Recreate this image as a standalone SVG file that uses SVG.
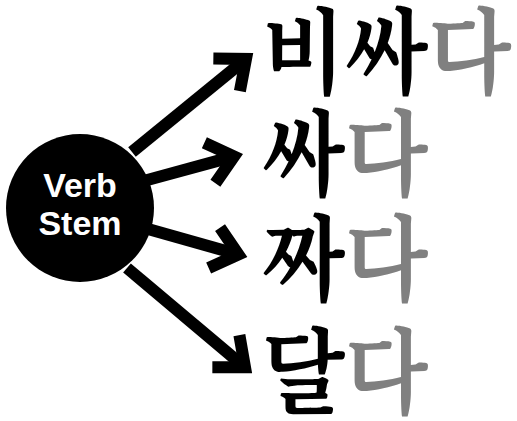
<svg xmlns="http://www.w3.org/2000/svg" width="517" height="421" viewBox="0 0 517 421">
<style>
.conn{fill:none;stroke:#000;stroke-width:12;stroke-linecap:butt;stroke-linejoin:miter}
.head{fill:none;stroke:#000;stroke-width:12;stroke-linecap:butt;stroke-linejoin:miter;stroke-miterlimit:10}
.stem{fill:#fff;font-family:"Liberation Sans",Arial,sans-serif;font-weight:bold;font-size:34px;text-anchor:middle}
.kr{font-family:"Noto Serif CJK KR","Noto Sans CJK KR",sans-serif;font-size:86px;font-weight:bold;fill:#000}
.end{fill:#808080}
</style>
<defs>
<marker id="chev" markerUnits="userSpaceOnUse" markerWidth="80" markerHeight="80" refX="0" refY="0" viewBox="-40 -40 80 80" orient="auto" overflow="visible">
<path class="head" d="M-25,-21 L0,0 L-25,21"/>
</marker>
</defs>
<rect width="517" height="421" fill="#fff"/>
<g id="connectors">
<path class="conn" d="M132,152 L246,59" marker-end="url(#chev)"/>
<path class="conn" d="M140,182 L234,156.4" marker-end="url(#chev)"/>
<path class="conn" d="M148,229 L238.4,254.5" marker-end="url(#chev)"/>
<path class="conn" d="M127,268 L245,367.3" marker-end="url(#chev)"/>
</g>
<g id="verb-stem">
<circle cx="80" cy="208" r="74" fill="#000"/>
<text class="stem" x="80" y="197">Verb</text>
<text class="stem" x="80" y="235">Stem</text>
</g>
<g id="bissada"><text class="kr" x="262" y="86" transform="translate(0,86) scale(1,1.08) translate(0,-86)">비싸<tspan class="end">다</tspan></text></g>
<g id="ssada"><text class="kr" x="262" y="188" transform="translate(0,188) scale(1,1.08) translate(0,-188)">싸<tspan class="end">다</tspan></text></g>
<g id="jjada"><text class="kr" x="262" y="293" transform="translate(0,293) scale(1,1.08) translate(0,-293)">짜<tspan class="end">다</tspan></text></g>
<g id="dalda"><text class="kr" x="262" y="406" transform="translate(0,406) scale(1,1.08) translate(0,-406)">달<tspan class="end">다</tspan></text></g>
</svg>
